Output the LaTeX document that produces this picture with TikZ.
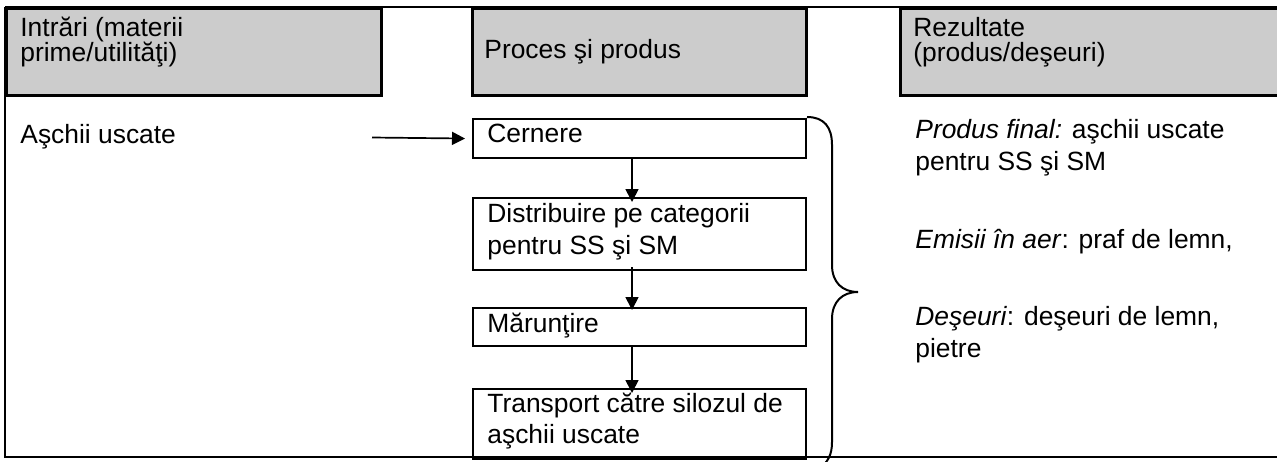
\documentclass[tikz,border=0pt]{standalone}
\usepackage{fontspec}
\setmainfont{Liberation Sans}
\usetikzlibrary{arrows.meta,calc}
\definecolor{hdrgray}{RGB}{204,204,204}
\begin{document}
\begin{tikzpicture}[x=0.5pt,y=-0.5pt,
  font=\fontsize{13.2}{15.8}\selectfont,
  hdr/.style={draw=black, line width=1.3pt, fill=hdrgray, anchor=north west, inner sep=0pt, minimum height=43.5pt},
  stepbox/.style={draw=black, line width=1.1pt, anchor=north west, inner sep=0pt, minimum width=166.5pt},
  txt/.style={anchor=base west, inner sep=0pt},
  flow/.style={line width=0.85pt, -{Triangle[length=6.5pt,width=6.5pt]}},
  rule/.style={line width=0.9pt},
  brace/.style={line width=1pt}]
\useasboundingbox (0,0) rectangle (1277,461);
\clip (0,0) rectangle (1277,461);

% table frame
\coordinate (tl) at (5,7);
\coordinate (tr) at (1277,7);
\coordinate (bl) at (5,457);
\coordinate (br) at (1277,457);
\draw[rule] (tl) -- (tr);
\draw[rule] (tl) -- (bl) -- (br);

% headers
\node[hdr, minimum width=187.5pt] (h1) at (5,7) {};
\node[hdr, minimum width=167pt] (h2) at (471,7) {};
\node[hdr, minimum width=196pt] (h3) at (899,7) {};
\node[txt] (h1a) at (20,36) {Intrări (materii};
\node[txt] (h1b) at (20,61) {prime/utilităţi)};
\node[txt] (h2a) at (484,58) {Proces şi produs};
\node[txt] (h3a) at (913,36) {Rezultate};
\node[txt] (h3b) at (913,61) {(produs/deşeuri)};

% inputs
\node[txt] (in1) at (20,143) {Aşchii uscate};

% process boxes
\node[stepbox, minimum height=19.5pt] (cern) at (472,118) {};
\node[stepbox, minimum height=36pt] (dist) at (472,197) {};
\node[stepbox, minimum height=19pt] (maru) at (472,307) {};
\node[stepbox, minimum height=35pt] (trans) at (472,388) {};
\node[txt] (cernT) at (487,142) {Cernere};
\node[txt] (distT1) at (487,222) {Distribuire pe categorii};
\node[txt] (distT2) at (487,254) {pentru SS şi SM};
\node[txt] (maruT) at (487,332) {Mărunţire};
\node[txt] (transT1) at (487,412) {Transport către silozul de};
\node[txt] (transT2) at (487,443) {aşchii uscate};

% connectors
\coordinate (ain) at (372,137.5);
\coordinate (ax) at (632,0);
\draw[flow, shorten >=3.5pt] (ain) -- (cern.west);
\draw[flow, shorten >=-2.5pt] (cern.south -| ax) -- (dist.north -| ax);
\draw[flow, shorten <=-2pt, shorten >=-1.5pt] (dist.south -| ax) -- (maru.north -| ax);
\draw[flow, shorten >=-2.5pt] (maru.south -| ax) -- (trans.north -| ax);

% brace
\draw[brace] (807,117) .. controls (824,117) and (832,127) .. (832,145)
  -- (832,265) .. controls (832,282) and (842,292) .. (858,292)
  .. controls (842,292) and (832,302) .. (832,319)
  -- (832,442) .. controls (832,455) and (828,462) .. (818,470);

% results
\node[txt] (r1) at (915,138) {\textit{Produs final:} aşchii uscate};
\node[txt] (r2) at (915,170) {pentru SS şi SM};
\node[txt] (r3) at (915,248) {\textit{Emisii în aer}: praf de lemn,};
\node[txt] (r4) at (915,325) {\textit{Deşeuri}: deşeuri de lemn,};
\node[txt] (r5) at (915,357) {pietre};
\end{tikzpicture}
\end{document}
